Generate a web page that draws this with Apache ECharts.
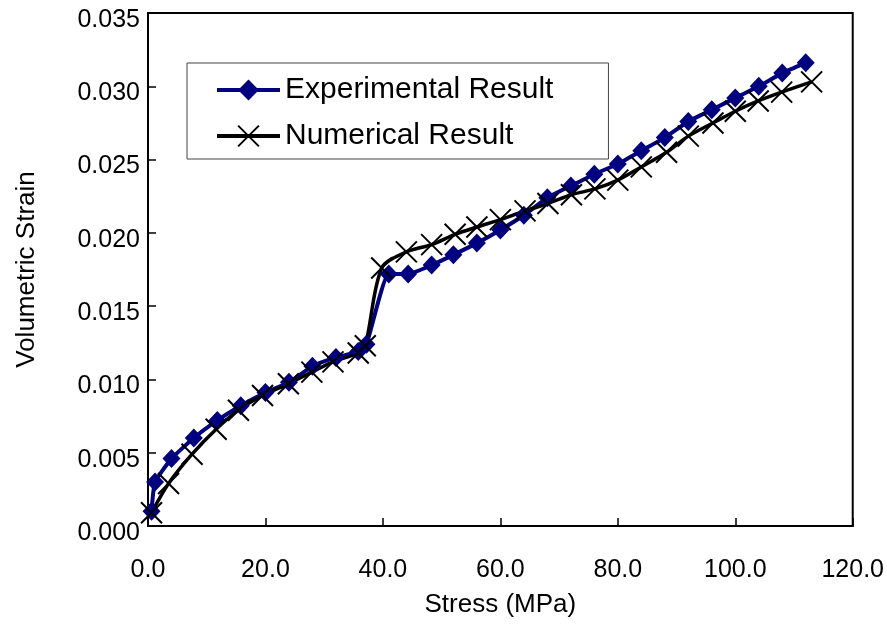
<!DOCTYPE html>
<html lang="en" style="height: 100%">
<head>
  <meta charset="utf-8">
</head>
<body style="height: 100%; margin: 0; background: #fff">
  <div id="container" style="width: 887px; height: 631px"></div>

  <script type="text/javascript" src="https://cdn.jsdelivr.net/npm/echarts@6/dist/echarts.min.js"></script>
  <script type="text/javascript">
    // experimental result (blue diamonds)
    var expStress = [0.6, 1.2, 4, 7.8, 11.8, 15.8, 20, 24, 28, 32, 35.8, 37.2, 41, 44.3, 48.3, 52, 56, 60, 64, 68, 72, 76, 80, 84, 88, 92, 96, 100, 104, 108, 112];
    var expStrain = [0.0010, 0.0030, 0.0046, 0.0060, 0.0072, 0.0082, 0.0091, 0.0098, 0.0109, 0.0115, 0.0119, 0.0124, 0.0172, 0.0172, 0.0178, 0.0185, 0.0193, 0.0202, 0.0212, 0.0224, 0.0232, 0.0240, 0.0247, 0.0256, 0.0265, 0.0276, 0.0284, 0.0292, 0.0300, 0.0309, 0.0316];
    // numerical result (black crosses)
    var numStress = [0.6, 3.5, 7.5, 11.6, 15.4, 19.5, 23.9, 27.9, 31.5, 35.8, 37.0, 39.8, 44, 48.3, 52.3, 56, 60, 64.2, 68.1, 72.1, 76.1, 80, 84, 88.3, 92, 96.2, 100, 103.9, 107.9, 113];
    var numStrain = [0.0009, 0.0029, 0.0049, 0.0066, 0.0079, 0.0089, 0.0097, 0.0105, 0.0112, 0.0118, 0.0123, 0.0176, 0.0187, 0.0192, 0.0199, 0.0204, 0.0209, 0.0215, 0.0220, 0.0226, 0.0230, 0.0236, 0.0245, 0.0255, 0.0266, 0.0275, 0.0283, 0.0290, 0.0296, 0.0303];

    var seriesNames = ['Experimental Result', 'Numerical Result'];

    function pairs(xs, ys) {
      return xs.map(function (x, i) { return [x, ys[i]]; });
    }

    var font = 'Liberation Sans';
    var dom = document.getElementById('container');
    var myChart = echarts.init(dom, null, { renderer: 'canvas' });

    var option = {
      backgroundColor: '#fff',
      animation: false,
      grid: {
        left: 148, right: 34, top: 13, bottom: 105,
        show: true, borderColor: '#000', borderWidth: 2
      },
      legend: {
        orient: 'vertical',
        left: 187, top: 63,
        padding: [12, 55, 8, 28],
        itemWidth: 63, itemHeight: 26, itemGap: 16,
        borderColor: '#444', borderWidth: 1,
        backgroundColor: '#fff',
        lineStyle: { width: 4 },
        textStyle: { fontFamily: font, fontSize: 30, color: '#000' },
        data: seriesNames
      },
      xAxis: {
        type: 'value', min: 0, max: 120, interval: 20,
        name: 'Stress (MPa)', nameLocation: 'middle', nameGap: 66,
        nameTextStyle: { fontFamily: font, fontSize: 26, color: '#000' },
        axisLine: { lineStyle: { color: '#000', width: 2 } },
        axisTick: { inside: true, length: 8, lineStyle: { color: '#000', width: 1.5 } },
        axisLabel: {
          margin: 32, fontFamily: font, fontSize: 25, color: '#000',
          formatter: function (v) { return v.toFixed(1); }
        },
        splitLine: { show: false }
      },
      yAxis: {
        type: 'value', min: 0, max: 0.035, interval: 0.005,
        name: 'Volumetric Strain', nameLocation: 'middle', nameGap: 108, nameRotate: 90,
        nameTextStyle: { fontFamily: font, fontSize: 26, color: '#000' },
        axisLine: { lineStyle: { color: '#000', width: 2 } },
        axisTick: { inside: true, length: 8, lineStyle: { color: '#000', width: 1.5 } },
        axisLabel: {
          margin: 8, fontFamily: font, fontSize: 25, color: '#000',
          verticalAlign: 'top', lineHeight: 14,
          formatter: function (v) { return v.toFixed(3); }
        },
        splitLine: { show: false }
      },
      series: [
        {
          name: seriesNames[0],
          type: 'line',
          data: pairs(expStress, expStrain),
          smooth: 0.15,
          symbol: 'diamond',
          symbolSize: [18, 19],
          lineStyle: { color: '#000080', width: 4 },
          itemStyle: { color: '#000080' }
        },
        {
          name: seriesNames[1],
          type: 'line',
          data: pairs(numStress, numStrain),
          smooth: 0.3,
          symbol: 'path://M0,0L10,10M10,0L0,10',
          symbolSize: 21,
          lineStyle: { color: '#000', width: 3.5 },
          itemStyle: { color: '#000', borderColor: '#000', borderWidth: 2 }
        }
      ]
    };

    myChart.setOption(option);
    window.addEventListener('resize', myChart.resize);
  </script>
</body>
</html>
